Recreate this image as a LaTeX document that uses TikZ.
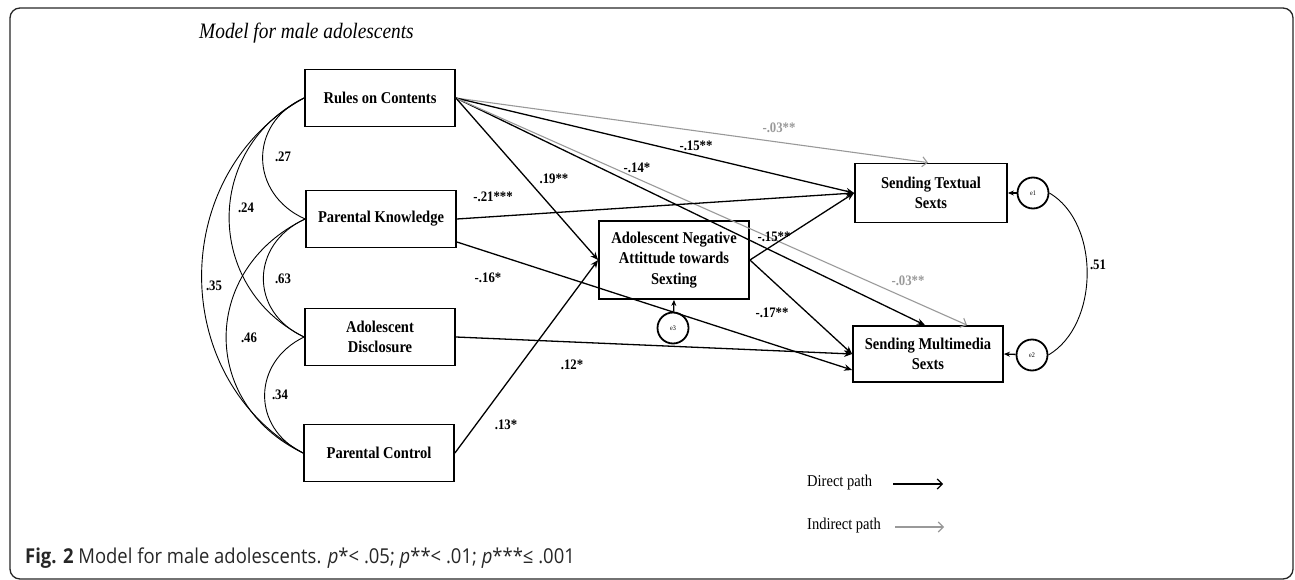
\documentclass[tikz,border=0pt]{standalone}
\usepackage{fontspec}
\setmainfont{Liberation Serif}[FakeStretch=0.88]
\newfontfamily\capfont{Open Sans}[FakeStretch=0.9]
\usepackage{tikz}
\usetikzlibrary{arrows.meta, positioning}
\definecolor{indgray}{gray}{0.6}
\tikzset{
  var/.style = {draw=black, line width=1.8pt, align=center, inner sep=2pt,
    minimum width=150pt, minimum height=57pt,
    font=\fontsize{16.5}{20.5}\selectfont\bfseries},
  err/.style = {circle, draw=black, line width=1.8pt, minimum size=31pt,
    inner sep=0pt, font=\fontsize{7}{8}\selectfont},
  coef/.style = {inner sep=1pt, font=\fontsize{14.5}{16}\selectfont\bfseries},
  legtext/.style = {anchor=west, inner sep=0pt, font=\fontsize{16.5}{18}\selectfont},
  direct/.style = {->, line width=1.3pt},
  indirect/.style = {-{Straight Barb[length=5pt,width=10pt]}, draw=indgray, line width=1.1pt},
  cov/.style = {-, line width=0.9pt}
}

\begin{document}
\begin{tikzpicture}[x=1pt, y=-1pt, >={Stealth[length=8pt,width=6.5pt]}]
\useasboundingbox (0,0) rectangle (1295,580);
\draw[rounded corners=10pt, line width=1.3pt, draw=black!85] (10,8) rectangle (1293,579);

\node[anchor=west, inner sep=0pt, font=\fontsize{22}{24}\selectfont\itshape] (title) at (199,33) {Model for male adolescents};

% observed variables
\node[var] (rc) at (380,98) {Rules on Contents};
\node[var] (pk) at (381,219) {Parental Knowledge};
\node[var] (ad) at (380,337) {Adolescent\\Disclosure};
\node[var] (pc) at (379,453) {Parental Control};
\node[var, minimum height=78pt] (ana) at (674,260) {Adolescent Negative\\Attittude towards\\Sexting};
\node[var, minimum width=152pt, minimum height=59pt] (st) at (931,193) {Sending Textual\\Sexts};
\node[var, minimum height=56pt] (sm) at (928,354) {Sending Multimedia\\Sexts};

% errors
\node[err] (e1) at (1033,193) {e1};
\node[err] (e2) at (1032,355) {e2};
\node[err] (e3) at (673,328) {e3};

% paths
\draw[indirect] (rc.east) -- ([xshift=-3pt]st.north);
\draw[direct] (rc.east) -- (st.west);
\draw[direct] (rc.east) -- ([xshift=-3pt]sm.north);
\draw[indirect] (rc.east) -- ([xshift=39pt]sm.north);
\draw[direct] (rc.east) -- (ana.west);
\draw[direct] (pk.east) -- (st.west);
\draw[direct] ([yshift=-23pt]pk.east) -- ([yshift=-16pt]sm.west);
\draw[direct] (ad.east) -- (sm.west);
\draw[direct] (pc.east) -- (ana.west);
\draw[direct] (ana.east) -- (st.west);
\draw[direct] (ana.east) -- (sm.west);
\draw[direct, >={Stealth[length=6pt,width=5pt]}] (e3) -- (ana.south);
\draw[direct, >={Stealth[length=6pt,width=5pt]}] (e1) -- (st.east);
\draw[direct, >={Stealth[length=6pt,width=5pt]}] (e2) -- (sm.east);

% covariances
\draw[cov] (rc.west) .. controls +(-56,25) and +(-56,-25) .. (pk.west);
\draw[cov] (rc.west) .. controls +(-100,50) and +(-100,-50) .. (ad.west);
\draw[cov] (rc.west) .. controls +(-136,75) and +(-136,-75) .. (pc.west);
\draw[cov] (pk.west) .. controls +(-55,25) and +(-55,-25) .. (ad.west);
\draw[cov] (pk.west) .. controls +(-104,50) and +(-104,-50) .. (pc.west);
\draw[cov] (ad.west) .. controls +(-52,25) and +(-52,-25) .. (pc.west);
\draw[cov] (e1.east) .. controls +(51,30) and +(51,-30) .. (e2.east);

% coefficients
\node[coef] (c27) at (283,157) {.27};
\node[coef] (c24) at (246,208) {.24};
\node[coef] (c35) at (214,286) {.35};
\node[coef] (c63) at (283,279) {.63};
\node[coef] (c46) at (249,338) {.46};
\node[coef] (c34) at (280,395) {.34};
\node[coef, text=indgray] (i03a) at (779,128) {-.03**};
\node[coef] (d15a) at (696,146) {-.15**};
\node[coef] (d14) at (637,168) {-.14*};
\node[coef] (d19) at (554,179) {.19**};
\node[coef] (d21) at (493,197) {-.21***};
\node[coef] (d15b) at (774,237) {-.15**};
\node[coef] (d16) at (488,278) {-.16*};
\node[coef, text=indgray] (i03b) at (908,281) {-.03**};
\node[coef] (d17) at (772,313) {-.17**};
\node[coef] (d12) at (572,365) {.12*};
\node[coef] (d13) at (506,425) {.13*};
\node[coef] (c51) at (1098,265) {.51};

% legend
\node[legtext] (dlab) at (807,483) {Direct path};
\coordinate (dst) at (893,484);
\coordinate (den) at (943,484);
\draw[-{Straight Barb[length=5pt,width=10pt]}, line width=1.2pt] (dst) -- (den);
\node[legtext] (ilab) at (807,526) {Indirect path};
\coordinate (ist) at (895,527);
\coordinate (ien) at (944,527);
\draw[indirect] (ist) -- (ien);

\node[anchor=west, inner sep=0pt, text=black!85, font=\capfont\fontsize{20.5}{22}\selectfont] (caption) at (25,558) {\textbf{Fig. 2} Model for male adolescents. \textit{p}*< .05; \textit{p}**< .01; \textit{p}***≤ .001};
\end{tikzpicture}
\end{document}
